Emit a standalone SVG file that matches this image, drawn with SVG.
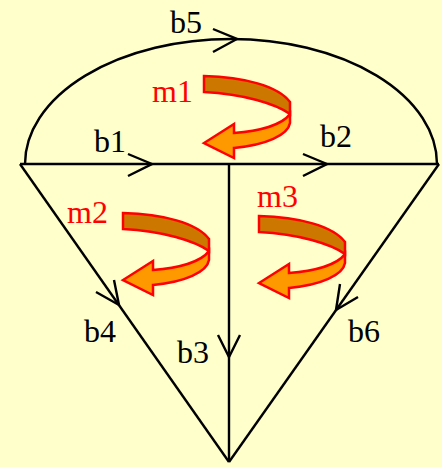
<svg xmlns="http://www.w3.org/2000/svg" xmlns:xlink="http://www.w3.org/1999/xlink" width="442" height="467" viewBox="0 0 442 467">
<style>
.br{fill:none;stroke:#000;stroke-width:2.4;stroke-linejoin:miter}
.ah{fill:none;stroke:#000;stroke-width:2.4}
.lb{font-family:"Liberation Serif","Times New Roman",serif;font-size:32px;fill:#000}
.ml{font-family:"Liberation Serif","Times New Roman",serif;font-size:32px;fill:#FF0000}
.dk{fill:#CC7700;stroke:#FF0000;stroke-width:2.5;stroke-linejoin:miter}
.or{fill:#FF9900;stroke:#FF0000;stroke-width:2.5;stroke-linejoin:miter}
</style>
<defs>
<g id="mesh">
<path class="or" d="M 86 37 L 86 46 C 84 58, 62 68, 30 71 L 30 81 L 0 66 L 30 47 L 30 56 C 55 54, 78 48, 86 37 Z"/>
<path class="dk" d="M 0 -1 C 40 0, 74 9, 86 25 L 86 37 C 72 27, 40 17, 0 15 Z"/>
</g>
</defs>
<rect x="0" y="0" width="442" height="467" fill="#FFFFCC"/>
<g id="connectors">
<path id="b5" class="br" d="M 25 164 A 206 125 0 0 1 437 164"/>
<path id="b1b2" class="br" d="M 20 164 L 439 164"/>
<path id="b3" class="br" d="M 229 164 L 229 462"/>
<path id="b4" class="br" d="M 20 164 L 229 462"/>
<path id="b6" class="br" d="M 439 164 L 229 462"/>
<polyline class="ah" points="213,29 237,39 213,52"/>
<polyline class="ah" points="128,154 152,164 128,176"/>
<polyline class="ah" points="303,154 327,164 303,176"/>
<polyline class="ah" points="218,335 229,357 240,335"/>
<polyline class="ah" points="114,280 119,305 96,292"/>
<polyline class="ah" points="358,297 336,310 340,284"/>
</g>
<g id="labels">
<text class="lb" x="170" y="33">b5</text>
<text class="lb" x="94" y="152">b1</text>
<text class="lb" x="320" y="147">b2</text>
<text class="lb" x="177" y="363">b3</text>
<text class="lb" x="84" y="342">b4</text>
<text class="lb" x="348" y="342">b6</text>
</g>
<g id="m1">
<use xlink:href="#mesh" transform="translate(204,77)"/>
<text class="ml" x="152" y="102">m1</text>
</g>
<g id="m2">
<use xlink:href="#mesh" transform="translate(123,214)"/>
<text class="ml" x="67" y="223">m2</text>
</g>
<g id="m3">
<use xlink:href="#mesh" transform="translate(259,217)"/>
<text class="ml" x="257" y="207">m3</text>
</g>
</svg>
